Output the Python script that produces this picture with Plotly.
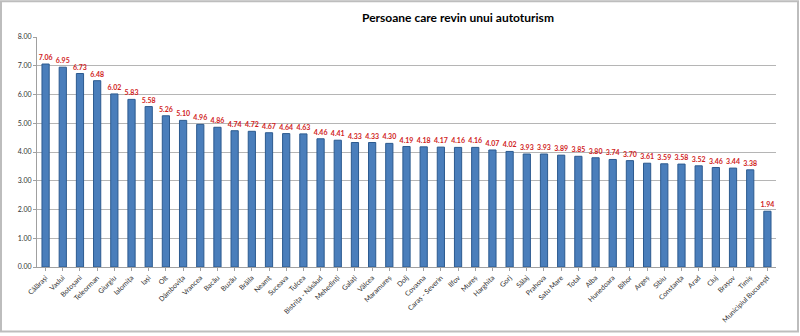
import plotly.graph_objects as go

categories = ["Călărași", "Vaslui", "Botoșani", "Teleorman", "Giurgiu", "Ialomița", "Iași", "Olt",
              "Dâmbovița", "Vrancea", "Bacău", "Buzău", "Brăila", "Neamț", "Suceava", "Tulcea",
              "Bistrița - Năsăud", "Mehedinți", "Galați", "Vâlcea", "Maramureș", "Dolj", "Covasna",
              "Caraș - Severin", "Ilfov", "Mureș", "Harghita", "Gorj", "Sălaj", "Prahova", "Satu Mare",
              "Total", "Alba", "Hunedoara", "Bihor", "Argeș", "Sibiu", "Constanța", "Arad", "Cluj",
              "Brașov", "Timiș", "Municipiul București"]
values = [7.06, 6.95, 6.73, 6.48, 6.02, 5.83, 5.58, 5.26, 5.10, 4.96, 4.86, 4.74, 4.72, 4.67,
          4.64, 4.63, 4.46, 4.41, 4.33, 4.33, 4.30, 4.19, 4.18, 4.17, 4.16, 4.16, 4.07, 4.02,
          3.93, 3.93, 3.89, 3.85, 3.80, 3.74, 3.70, 3.61, 3.59, 3.58, 3.52, 3.46, 3.44, 3.38, 1.94]
y_ticks = [0, 1, 2, 3, 4, 5, 6, 7, 8]
title = "Persoane care revin unui autoturism"

fig = go.Figure()
fig.add_trace(go.Bar(
    x=categories, y=values, width=0.42,
    marker=dict(color="#4A7EBB", line=dict(color="#2C5A8F", width=1)),
    text=[f"{v:.2f}" for v in values], textposition="outside",
    textfont=dict(color="#D0231C", size=7, family="Lato"),
    texttemplate="<b>%{text}</b>",
    constraintext="none",
    cliponaxis=False,
))

L, R, T, B = 37, 24, 37, 67
W, H = 800, 336
pw, ph = W - L - R, H - T - B
fig.update_layout(
    width=W, height=H, margin=dict(l=L, r=R, t=T, b=B),
    paper_bgcolor="white", plot_bgcolor="white",
    showlegend=False,
    uniformtext=dict(mode=False),
    title=dict(text=f"<b>{title}</b>", x=458 / W, xanchor="center", y=1 - 18 / H, yanchor="middle",
               font=dict(size=12, color="black", family="Lato")),
    xaxis=dict(range=[-0.5, len(categories) - 0.5], tickangle=-45,
               tickfont=dict(size=7, color="#333333", family="Lato"),
               showline=True, linecolor="#A0A0A0", ticks="outside", ticklen=3, tickcolor="#A0A0A0",
               showgrid=False),
    yaxis=dict(range=[0, 8], tickvals=y_ticks, tickformat=".2f",
               tickfont=dict(size=7, color="#333333", family="Lato"),
               showgrid=True, gridcolor="#B5B5B5", gridwidth=1,
               showline=True, linecolor="#A0A0A0", ticks="outside", ticklen=3, tickcolor="#A0A0A0",
               zeroline=False),
    bargap=0.6,
)
# outer chart frame
fig.add_shape(type="rect", xref="paper", yref="paper",
              x0=(1 - L) / pw, x1=(W - 2 - L) / pw, y0=-(B - 2) / ph, y1=1 + (T - 1) / ph,
              line=dict(color="#BDBDBD", width=2), fillcolor="rgba(0,0,0,0)")
fig.write_html("out.html")
